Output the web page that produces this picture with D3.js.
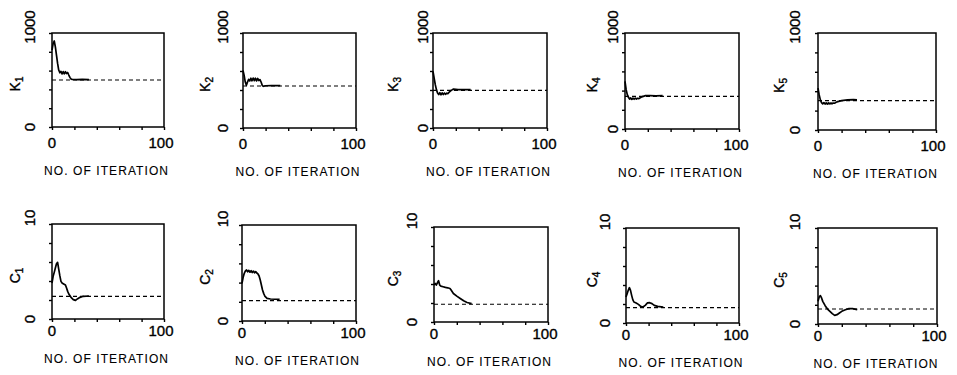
<!DOCTYPE html>
<html>
<head>
<meta charset="utf-8">
<script src="https://cdn.jsdelivr.net/npm/d3@7"></script>
<style>
  body { margin: 0; background: #fff; }
  svg text { font-family: "Liberation Sans", Arial, sans-serif; fill: #000; stroke: #000; stroke-width: 0.35px; }
  svg text.axis-title { stroke-width: 0.1px; }
</style>
</head>
<body>
<svg id="chart" width="957" height="375"></svg>
<script>
// tick values
const iterTicks = [0, 20, 40, 60, 80, 100];
const kTicks = [0, 200, 400, 600, 800, 1000];
const cTicks = [0, 2, 4, 6, 8, 10];

// estimated parameter traces, [iteration, value]
const k1 = [[0,817],[1,887],[2,915],[3,852],[4,764],[5,676],[6,606],[7,577],[8,592],[9,565],[10,590],[11,566],[12,588],[13,568],[14,580],[15,553],[16,528],[17,511],[18,507],[22,505],[27,506],[33,505]];
const k2 = [[0,607],[1,554],[2,484],[3,449],[4,484],[5,512],[6,495],[7,524],[8,497],[9,526],[10,498],[11,524],[12,496],[13,522],[14,500],[15,510],[16,484],[17,449],[18,439],[20,445],[25,447],[33,446]];
const k3 = [[0,596],[1,526],[2,456],[3,404],[4,368],[5,352],[6,372],[7,350],[8,370],[9,352],[10,368],[11,355],[12,366],[13,362],[14,375],[16,396],[18,410],[22,404],[27,405],[33,404]];
const k4 = [[0,497],[1,410],[2,358],[3,330],[4,312],[5,324],[6,308],[7,322],[8,310],[9,321],[10,312],[11,320],[12,316],[13,322],[14,330],[16,340],[18,347],[22,347],[27,346],[33,347]];
const k5 = [[0,431],[1,362],[2,310],[3,283],[4,270],[5,282],[6,268],[7,280],[8,268],[9,279],[10,270],[11,278],[12,272],[13,278],[14,276],[16,290],[20,303],[25,310],[30,314],[33,310]];

const c1 = [[0,3.79],[1,4.49],[2,4.91],[3,5.37],[4,5.82],[5,5.96],[6,5.26],[7,4.56],[8,3.96],[9,3.79],[10,3.72],[12,3.58],[13,3.26],[14,2.91],[15,2.63],[17,2.28],[19,2.04],[21,1.96],[23,2.14],[25,2.28],[28,2.39],[33,2.42]];
const c2 = [[0,3.92],[1,4.55],[2,4.97],[3,5.21],[4,5.31],[5,5.12],[6,5.28],[7,5.08],[8,5.24],[9,5.04],[10,5.2],[11,5.02],[12,5.15],[13,5.0],[14,4.9],[15,4.69],[16,4.27],[17,3.75],[18,3.23],[19,2.88],[20,2.6],[22,2.36],[25,2.29],[33,2.26]];
const c3 = [[0,3.89],[1,4.06],[2,3.89],[3,4.13],[4,4.35],[5,3.89],[6,3.78],[8,3.71],[10,3.64],[12,3.6],[14,3.53],[15,3.36],[17,3.0],[20,2.72],[23,2.47],[26,2.23],[29,2.05],[33,1.94]];
const c4 = [[0,2.74],[1,3.09],[2,3.44],[3,3.72],[4,3.44],[5,2.91],[6,2.46],[7,2.21],[9,2.11],[11,1.96],[13,1.75],[15,1.68],[17,1.86],[19,2.11],[21,2.14],[23,2.04],[25,1.86],[28,1.75],[33,1.68]];
const c5 = [[0,2.36],[1,2.81],[2,2.95],[3,2.71],[4,2.36],[6,1.91],[8,1.56],[10,1.32],[12,1.08],[14,0.9],[16,0.97],[18,1.15],[20,1.32],[23,1.49],[26,1.6],[29,1.6],[33,1.49]];

// true values (dashed lines)
const kTrue = [500, 442, 396, 340, 303];
const cTrue = [2.39, 2.12, 1.87, 1.61, 1.56];
const subscripts = ["1", "2", "3", "4", "5"];

const kSeries = [k1, k2, k3, k4, k5];
const cSeries = [c1, c2, c3, c4, c5];

// panel boxes [left, right, top, bottom] and label positions
const topBoxes = [[52,164,33,127],[243,356,33,128],[433,547,33,128],[625,739,33,129],[818,936,33,130]];
const botBoxes = [[52,164,224,319],[242,356,225,321],[434,548,227,322],[626,739,228,323],[818,937,228,324]];
const topTickLabelX = [30,223,423,613,795];
const botTickLabelX = [30,223,412,605,795];
const nameX = [15,205,393,592,779];

const svg = d3.select("#chart");

const panels = [];
kSeries.forEach((s, i) => panels.push({
    data: s, truth: kTrue[i], ticks: kTicks, max: 1000, letter: "K",
    sub: subscripts[i], box: topBoxes[i], tlx: topTickLabelX[i], nx: nameX[i], xlOff: 21
}));
cSeries.forEach((s, i) => panels.push({
    data: s, truth: cTrue[i], ticks: cTicks, max: 10, letter: "C",
    sub: subscripts[i], box: botBoxes[i], tlx: botTickLabelX[i], nx: nameX[i], xlOff: 17
}));

panels.forEach(p => drawPanel(p));

function drawPanel(p){
    const [left, right, top, bottom] = p.box;
    const x = d3.scaleLinear().domain([0, 100]).range([left, right]);
    const y = d3.scaleLinear().domain([0, p.max]).range([bottom, top]);
    const g = svg.append("g");

    // ticks
    const yAxis = g.append("g")
        .attr("transform", `translate(${left},0)`)
        .call(d3.axisLeft(y).tickValues(p.ticks).tickSize(3).tickFormat(""));
    const xAxis = g.append("g")
        .attr("transform", `translate(0,${bottom})`)
        .call(d3.axisBottom(x).tickValues(iterTicks).tickSize(3).tickFormat(""));
    [yAxis, xAxis].forEach(a => {
        a.select(".domain").remove();
        a.selectAll("line").attr("stroke", "#000").attr("stroke-width", 1.4);
    });

    // frame
    g.append("rect")
        .attr("x", left).attr("y", top)
        .attr("width", right - left).attr("height", bottom - top)
        .attr("fill", "none").attr("stroke", "#000").attr("stroke-width", 1.5);

    // true value, dashed
    g.append("line")
        .attr("x1", x(0)).attr("x2", x(100))
        .attr("y1", y(p.truth)).attr("y2", y(p.truth))
        .attr("stroke", "#000").attr("stroke-width", 1.2)
        .attr("stroke-dasharray", "4,3");

    // estimate trace
    const line = d3.line().x(d => x(d[0])).y(d => y(d[1]));
    g.append("path")
        .datum(p.data)
        .attr("d", line)
        .attr("fill", "none").attr("stroke", "#000")
        .attr("stroke-width", 1.7).attr("stroke-linejoin", "round");

    // rotated y tick labels
    const yLabels = [[0, y(0)], [p.max, y(p.max) - 6]];
    yLabels.forEach(([v, py]) => {
        g.append("text")
            .attr("transform", `translate(${p.tlx},${py}) rotate(-90)`)
            .attr("text-anchor", "middle")
            .attr("dy", "0.36em")
            .attr("font-size", 15)
            .text(v);
    });

    // x tick labels
    g.append("text")
        .attr("x", x(0)).attr("y", bottom + p.xlOff)
        .attr("text-anchor", "middle").attr("font-size", 15)
        .text("0");
    g.append("text")
        .attr("x", x(100) - 3).attr("y", bottom + p.xlOff)
        .attr("text-anchor", "middle").attr("font-size", 15)
        .text("100");

    // x axis title
    g.append("text")
        .attr("class", "axis-title")
        .attr("x", (left + right) / 2 - 2).attr("y", bottom + p.xlOff + 27)
        .attr("text-anchor", "middle").attr("font-size", 12)
        .attr("textLength", 124).attr("lengthAdjust", "spacing")
        .text("NO. OF ITERATION");

    // y axis name with subscript
    const name = g.append("text")
        .attr("transform", `translate(${p.nx},${(top + bottom) / 2 + 4}) rotate(-90)`)
        .attr("text-anchor", "middle")
        .attr("dy", "0.36em")
        .attr("font-size", 14);
    name.append("tspan").text(p.letter);
    name.append("tspan").attr("font-size", 10).attr("dy", "0.3em").text(p.sub);
}
</script>
</body>
</html>
